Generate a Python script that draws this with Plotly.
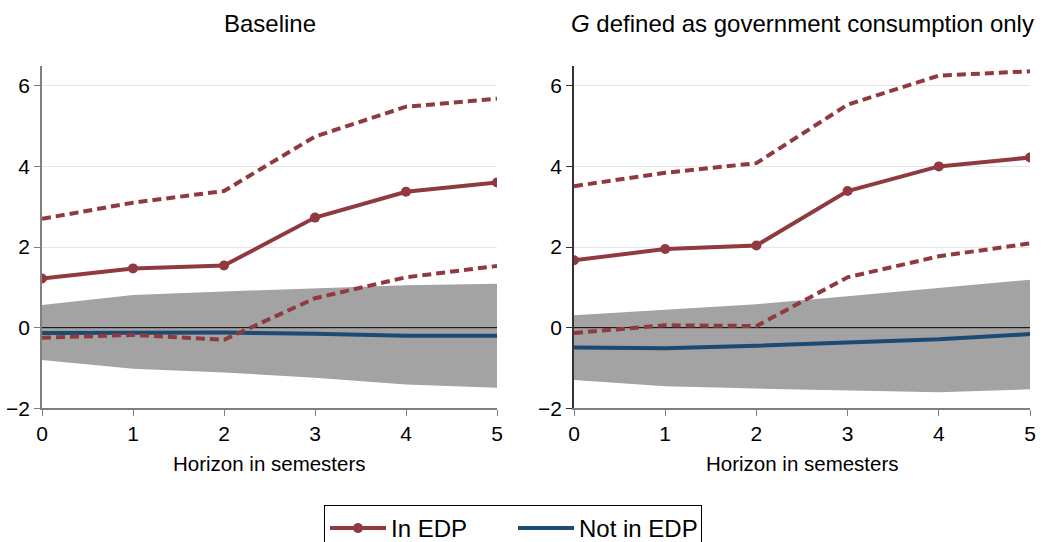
import plotly.graph_objects as go

horizon = [0, 1, 2, 3, 4, 5]

# Baseline panel
base_edp = [1.22, 1.47, 1.54, 2.73, 3.37, 3.60]
base_edp_hi = [2.70, 3.10, 3.39, 4.74, 5.48, 5.68]
base_edp_lo = [-0.25, -0.18, -0.30, 0.73, 1.25, 1.53]
base_not = [-0.13, -0.12, -0.12, -0.15, -0.20, -0.20]
base_not_hi = [0.56, 0.81, 0.90, 0.98, 1.05, 1.09]
base_not_lo = [-0.80, -1.02, -1.11, -1.24, -1.41, -1.49]

# G = government consumption panel
gc_edp = [1.67, 1.95, 2.04, 3.39, 4.00, 4.22]
gc_edp_hi = [3.51, 3.84, 4.08, 5.53, 6.25, 6.36]
gc_edp_lo = [-0.13, 0.06, 0.04, 1.25, 1.77, 2.09]
gc_not = [-0.49, -0.51, -0.45, -0.36, -0.29, -0.16]
gc_not_hi = [0.31, 0.44, 0.58, 0.78, 0.99, 1.19]
gc_not_lo = [-1.30, -1.45, -1.51, -1.56, -1.60, -1.53]

titles = ["Baseline", "<i>G</i> defined as government consumption only"]
x_title = "Horizon in semesters"
y_ticks = [-2, 0, 2, 4, 6]

RED = "#903a40"
BLUE = "#1b4a72"
BAND = "#a3a3a3"
FONT = "Liberation Sans, Arial, sans-serif"

fig = go.Figure()

panels = [
    (base_edp, base_edp_hi, base_edp_lo, base_not, base_not_hi, base_not_lo, "x", "y"),
    (gc_edp, gc_edp_hi, gc_edp_lo, gc_not, gc_not_hi, gc_not_lo, "x2", "y2"),
]

for i, (edp, hi, lo, nt, nhi, nlo, xa, ya) in enumerate(panels):
    fig.add_trace(go.Scatter(x=horizon, y=nlo, mode="lines", line=dict(width=0, color=BAND),
                             showlegend=False, hoverinfo="skip", xaxis=xa, yaxis=ya))
    fig.add_trace(go.Scatter(x=horizon, y=nhi, mode="lines", line=dict(width=0, color=BAND),
                             fill="tonexty", fillcolor=BAND, showlegend=False,
                             hoverinfo="skip", xaxis=xa, yaxis=ya))
    fig.add_trace(go.Scatter(x=[horizon[0], horizon[-1]], y=[0, 0], mode="lines",
                             line=dict(width=1, color="black"), showlegend=False,
                             hoverinfo="skip", xaxis=xa, yaxis=ya))
    fig.add_trace(go.Scatter(x=horizon, y=nt, mode="lines", name="Not in EDP",
                             line=dict(width=4, color=BLUE), showlegend=(i == 0),
                             legendrank=2, xaxis=xa, yaxis=ya))
    for band in (hi, lo):
        fig.add_trace(go.Scatter(x=horizon, y=band, mode="lines",
                                 line=dict(width=4, color=RED, dash="9px,5px"),
                                 showlegend=False, xaxis=xa, yaxis=ya))
    fig.add_trace(go.Scatter(x=horizon, y=edp, mode="lines+markers", name="In EDP",
                             line=dict(width=4, color=RED),
                             marker=dict(size=10, color=RED, symbol="circle"),
                             showlegend=(i == 0), legendrank=1, xaxis=xa, yaxis=ya))

W, H = 1046, 542
ydom = [1 - 408.3 / H, 1 - 66 / H]
xdoms = [[42 / W, 497 / W], [574 / W, 1030 / W]]

axis_common = dict(showline=True, linewidth=1.5, ticks="outside", ticklen=6,
                   tickwidth=1.2, tickfont=dict(size=21, color="black", family=FONT),
                   zeroline=False, mirror=False)

layout_axes = {}
for i, (xa, ya) in enumerate([("xaxis", "yaxis"), ("xaxis2", "yaxis2")]):
    lc = "#808080" if i == 0 else "#333333"
    layout_axes[xa] = dict(domain=xdoms[i], range=[0, 5], tickvals=horizon, showgrid=False,
                           linecolor="#808080", tickcolor="#808080", anchor="y" if i == 0 else "y2",
                           **axis_common)
    layout_axes[ya] = dict(domain=ydom, range=[-2, 6.49], tickvals=y_ticks, showgrid=True,
                           gridcolor="#e6e6e6", gridwidth=1.2, linecolor=lc, tickcolor=lc,
                           anchor="x" if i == 0 else "x2", **axis_common)

annotations = []
for i in range(2):
    cx = (xdoms[i][0] + xdoms[i][1]) / 2
    annotations.append(dict(text=titles[i], x=cx, y=1 - 24 / H, xref="paper", yref="paper",
                            xanchor="center", yanchor="middle", showarrow=False,
                            font=dict(size=24, color="black", family=FONT)))
    annotations.append(dict(text=x_title, x=cx, y=1 - 463 / H, xref="paper", yref="paper",
                            xanchor="center", yanchor="middle", showarrow=False,
                            font=dict(size=20.5, color="black", family=FONT)))

fig.update_layout(
    width=W, height=H,
    margin=dict(l=0, r=0, t=0, b=0, autoexpand=False),
    paper_bgcolor="white", plot_bgcolor="white",
    font=dict(family=FONT, color="black"),
    annotations=annotations,
    legend=dict(orientation="h", x=513 / W, xanchor="center", y=1 - 505 / H, yanchor="top",
                bordercolor="black", borderwidth=1, font=dict(size=24, family=FONT),
                itemwidth=56, entrywidth=117, traceorder="normal", bgcolor="white"),
    **layout_axes,
)

fig.write_html("out.html")
